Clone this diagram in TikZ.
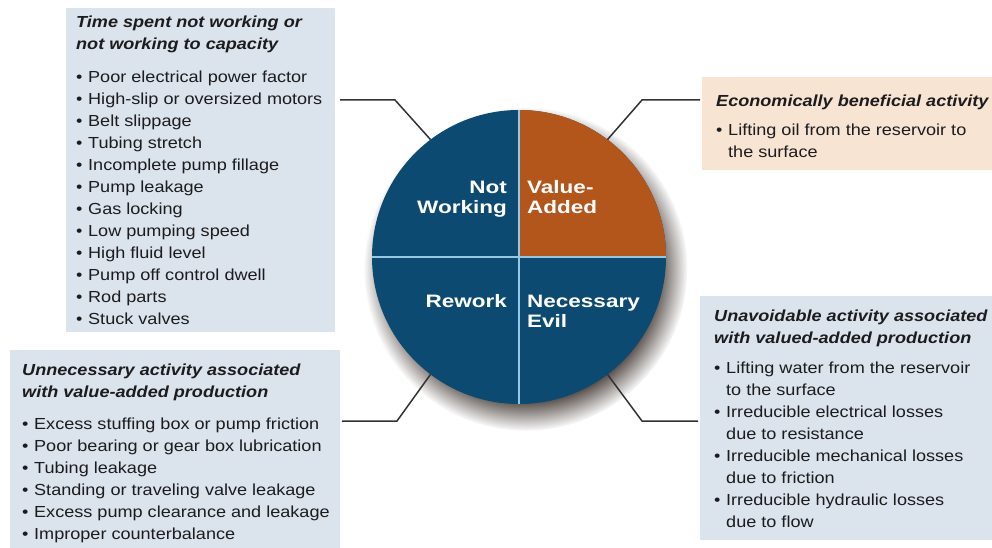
\documentclass[tikz,border=0pt]{standalone}
\usepackage{fontspec}
\setmainfont{Liberation Sans}[FakeStretch=1.13]
\newfontfamily\piefont{Liberation Sans}[FakeStretch=1.25]
\usetikzlibrary{shadows,fadings}

\definecolor{navy}{RGB}{12,74,114}
\definecolor{rust}{RGB}{178,86,28}
\definecolor{panel}{RGB}{219,227,236}
\definecolor{sand}{RGB}{248,228,211}
\definecolor{ink}{RGB}{28,28,30}
\definecolor{split}{RGB}{150,200,228}
\definecolor{wire}{RGB}{50,50,50}
\definecolor{shade}{RGB}{55,45,40}

% bullet list helpers
\newlength\bulw
\newcommand\li[1]{\makebox[\bulw][l]{\textbullet}#1}
\newcommand\lc[1]{\hspace*{\bulw}#1}
\newcommand\tit[1]{{\bfseries\itshape #1}}
\newcommand\hd{\rule{0pt}{14pt}}

\begin{document}
\begin{tikzpicture}[x=1pt,y=-1pt,
  panelbox/.style={fill=panel, draw=none, inner sep=0pt, outer sep=0pt, anchor=north west},
  sandbox/.style={panelbox, fill=sand},
  listtext/.style={anchor=north west, inner sep=0pt, align=left, text=ink,
                   font=\fontsize{16}{22}\selectfont},
  pielabel/.style={inner sep=0pt, text=white, font=\piefont\bfseries\fontsize{18}{20}\selectfont},
  wireline/.style={draw=wire, line width=1.5pt},
  splitline/.style={draw=split, line width=2pt}
]
\useasboundingbox (0,0) rectangle (992,548);

% category panels
\node[panelbox, minimum width=269, minimum height=324] (tlbox) at (66,8) {};
\node[sandbox,  minimum width=290, minimum height=93]  (trbox) at (702,77) {};
\node[panelbox, minimum width=292, minimum height=244] (brbox) at (700,296) {};
\node[panelbox, minimum width=330, minimum height=198] (blbox) at (10,350) {};

% the four-quadrant disc with its soft shadow
\node[circle, fill=navy, minimum size=294, inner sep=0pt, outer sep=0pt,
      circular drop shadow={shadow xshift=6pt, shadow yshift=-11pt, shadow scale=1.1,
                            fill=shade, opacity=0.9,
                            path fading={circle with fuzzy edge 20 percent}}]
      (pie) at (519,257) {};
\fill[rust] (pie.center) -- (pie.east) arc[start angle=0, end angle=90, radius=147pt] -- cycle;
\draw[splitline] (pie.north) -- (pie.south);
\draw[splitline] (pie.west) -- (pie.east);

\node[pielabel, anchor=north east, align=right] (qnw) at (507,179) {\hd Not\\Working};
\node[pielabel, anchor=north west, align=left]  (qne) at (527,179) {\hd Value-\\Added};
\node[pielabel, anchor=north east, align=right] (qsw) at (507,293) {\hd Rework};
\node[pielabel, anchor=north west, align=left]  (qse) at (527,293) {\hd Necessary\\Evil};

% leader lines from the disc to the panels
\coordinate (tlend) at (340,100);  \coordinate (tlbend) at (395,100);
\coordinate (trend) at (700,100);  \coordinate (trbend) at (642,100);
\coordinate (blend) at (342,421);  \coordinate (blbend) at (397,421);
\coordinate (brend) at (698,421);  \coordinate (brbend) at (642,421);
\draw[wireline] (tlend) -- (tlbend) -- (pie.127);
\draw[wireline] (trend) -- (trbend) -- (pie.53);
\draw[wireline] (blend) -- (blbend) -- (pie.233);
\draw[wireline] (brend) -- (brbend) -- (pie.307);

% panel texts
\setlength\bulw{12pt}
\node[listtext] (tltext) at (76,13) {%
  \hd\tit{Time spent not working or}\\
  \tit{not working to capacity}\\[11pt]
  \li{Poor electrical power factor}\\
  \li{High-slip or oversized motors}\\
  \li{Belt slippage}\\
  \li{Tubing stretch}\\
  \li{Incomplete pump fillage}\\
  \li{Pump leakage}\\
  \li{Gas locking}\\
  \li{Low pumping speed}\\
  \li{High fluid level}\\
  \li{Pump off control dwell}\\
  \li{Rod parts}\\
  \li{Stuck valves}};

\node[listtext] (trtext) at (716,92) {%
  \hd\tit{Economically beneficial activity}\\[7pt]
  \li{Lifting oil from the reservoir to}\\
  \lc{the surface}};

\node[listtext] (brtext) at (714,307) {%
  \hd\tit{Unavoidable activity associated}\\
  \tit{with valued-added production}\\[8pt]
  \li{Lifting water from the reservoir}\\
  \lc{to the surface}\\
  \li{Irreducible electrical losses}\\
  \lc{due to resistance}\\
  \li{Irreducible mechanical losses}\\
  \lc{due to friction}\\
  \li{Irreducible hydraulic losses}\\
  \lc{due to flow}};

\node[listtext] (bltext) at (22,361) {%
  \hd\tit{Unnecessary activity associated}\\
  \tit{with value-added production}\\[10pt]
  \li{Excess stuffing box or pump friction}\\
  \li{Poor bearing or gear box lubrication}\\
  \li{Tubing leakage}\\
  \li{Standing or traveling valve leakage}\\
  \li{Excess pump clearance and leakage}\\
  \li{Improper counterbalance}};
\end{tikzpicture}
\end{document}
